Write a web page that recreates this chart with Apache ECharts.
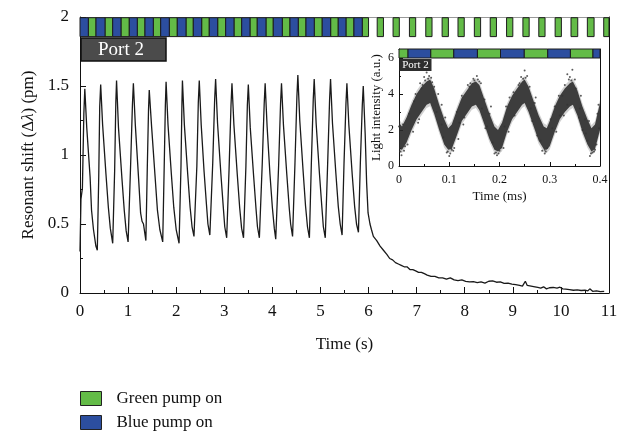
<!DOCTYPE html>
<html><head><meta charset="utf-8">
<script src="https://cdn.jsdelivr.net/npm/echarts@6/dist/echarts.min.js"></script>
<style>html,body{margin:0;padding:0;background:#fff}#c{width:624px;height:434px}</style>
</head><body><div id="c"></div>
<script>
// ---------- Main panel data (Time in s, resonant shift in pm) ----------
const resonantShift = [
 [0,0.30],[0.02,0.68],[0.05,0.76],[0.08,1.30],[0.10,1.48],[0.14,1.20],[0.21,0.84],[0.24,0.60],[0.28,0.46],[0.33,0.34],[0.36,0.31],
 [0.39,0.85],[0.41,1.35],[0.43,1.51],[0.47,1.22],[0.54,0.86],[0.59,0.62],[0.63,0.47],[0.68,0.36],
 [0.72,0.88],[0.745,1.38],[0.76,1.54],[0.80,1.20],[0.87,0.84],[0.92,0.60],[0.96,0.45],[1.00,0.37],
 [1.05,0.90],[1.09,1.36],[1.11,1.52],[1.15,1.22],[1.22,0.82],[1.26,0.58],[1.29,0.52],[1.32,0.50],[1.37,0.38],
 [1.40,0.92],[1.425,1.33],[1.44,1.47],[1.49,1.20],[1.56,0.85],[1.61,0.60],[1.66,0.46],[1.72,0.37],
 [1.75,0.90],[1.775,1.36],[1.79,1.53],[1.83,1.22],[1.90,0.86],[1.95,0.62],[2.00,0.46],[2.06,0.36],
 [2.10,0.92],[2.12,1.38],[2.13,1.54],[2.17,1.22],[2.24,0.86],[2.29,0.62],[2.33,0.48],[2.37,0.41],
 [2.43,0.92],[2.46,1.38],[2.48,1.54],[2.52,1.22],[2.58,0.88],[2.63,0.64],[2.66,0.50],[2.70,0.42],
 [2.76,0.94],[2.80,1.40],[2.82,1.55],[2.86,1.23],[2.93,0.86],[2.98,0.62],[3.01,0.48],[3.05,0.40],
 [3.10,0.90],[3.14,1.36],[3.16,1.52],[3.20,1.22],[3.27,0.86],[3.32,0.62],[3.36,0.47],[3.40,0.40],
 [3.45,0.92],[3.48,1.36],[3.50,1.51],[3.54,1.20],[3.61,0.85],[3.66,0.61],[3.69,0.48],[3.73,0.40],
 [3.79,0.94],[3.83,1.37],[3.85,1.52],[3.89,1.21],[3.95,0.86],[4.00,0.62],[4.04,0.47],[4.07,0.39],
 [4.13,0.92],[4.17,1.37],[4.19,1.52],[4.23,1.22],[4.30,0.86],[4.35,0.62],[4.38,0.50],[4.42,0.41],
 [4.47,0.94],[4.51,1.42],[4.53,1.58],[4.57,1.25],[4.64,0.88],[4.69,0.63],[4.73,0.48],[4.77,0.40],
 [4.81,0.93],[4.85,1.40],[4.87,1.55],[4.91,1.23],[4.98,0.86],[5.03,0.62],[5.06,0.48],[5.10,0.40],
 [5.15,0.94],[5.19,1.40],[5.21,1.55],[5.25,1.23],[5.32,0.87],[5.37,0.63],[5.41,0.50],[5.45,0.42],
 [5.49,0.94],[5.53,1.37],[5.55,1.52],[5.59,1.22],[5.66,0.86],[5.71,0.63],[5.75,0.50],[5.79,0.44],
 [5.83,0.95],[5.87,1.36],[5.89,1.50],[5.93,1.15],[5.96,0.80],[5.99,0.58],[6.03,0.50],[6.06,0.46],
 [6.10,0.41],[6.17,0.38],[6.24,0.34],[6.31,0.31],[6.38,0.28],[6.44,0.25],[6.50,0.24],[6.56,0.22],
 [6.62,0.21],[6.68,0.20],[6.74,0.19],[6.80,0.19],[6.86,0.17],[6.92,0.17],[6.98,0.16],[7.04,0.15],
 [7.10,0.15],[7.16,0.14],[7.22,0.13],[7.30,0.12],[7.38,0.12],[7.46,0.11],[7.54,0.11],[7.62,0.10],
 [7.70,0.11],[7.78,0.095],[7.86,0.09],[7.94,0.095],[8.02,0.085],[8.10,0.08],[8.18,0.082],[8.26,0.075],
 [8.34,0.08],[8.42,0.072],[8.50,0.085],[8.58,0.088],[8.66,0.078],[8.74,0.08],[8.82,0.07],[8.90,0.072],
 [8.98,0.065],[9.06,0.06],[9.14,0.055],[9.20,0.05],[9.26,0.085],[9.30,0.055],[9.38,0.05],[9.46,0.045],
 [9.52,0.04],[9.58,0.035],[9.64,0.045],[9.70,0.03],[9.76,0.038],[9.84,0.04],[9.92,0.035],[9.98,0.042],
 [10.04,0.03],[10.10,0.028],[10.18,0.025],[10.26,0.02],[10.34,0.022],[10.42,0.018],[10.50,0.02],
 [10.56,0.015],[10.60,0.03],[10.66,0.012],[10.74,0.015],[10.82,0.01],[10.90,0.012]
];
// pump-on intervals [start, end] in s
const bluePumpMain = [
 [0,0.173],[0.333,0.520],[0.680,0.852],[1.025,1.191],[1.351,1.524],[1.678,1.857],[2.023,2.204],
 [2.356,2.530],[2.688,2.863],[3.029,3.202],[3.362,3.534],[3.686,3.867],[4.019,4.206],[4.366,4.538],
 [4.699,4.871],[5.037,5.212],[5.370,5.530],[5.696,5.869]
];
const greenPumpMain = [
 [0.173,0.333],[0.520,0.680],[0.852,1.025],[1.191,1.351],[1.524,1.678],[1.857,2.023],[2.204,2.356],
 [2.530,2.688],[2.863,3.029],[3.202,3.362],[3.534,3.686],[3.867,4.019],[4.206,4.366],[4.538,4.699],
 [4.871,5.037],[5.212,5.370],[5.530,5.696],[5.869,6.00],
 [6.18,6.31],[6.51,6.64],[6.85,6.98],[7.19,7.32],[7.53,7.66],[7.86,7.99],[8.20,8.33],[8.53,8.66],
 [8.87,9.00],[9.21,9.34],[9.54,9.67],[9.88,10.01],[10.21,10.35],[10.55,10.69],[10.89,11.0]
];

// ---------- Inset data (Time in ms, light intensity a.u.) ----------
const insetTime = [0,0.006,0.015,0.025,0.035,0.045,0.055,0.062,0.07,0.08,0.09,0.098,0.105,0.115,0.125,0.135,0.145,0.153,0.16,0.17,0.18,0.19,0.197,0.205,0.215,0.225,0.235,0.245,0.25,0.258,0.268,0.278,0.288,0.294,0.3,0.31,0.32,0.33,0.34,0.346,0.355,0.365,0.375,0.383,0.39,0.4];
const insetLow  = [0.95,0.9,1.3,2.0,2.6,3.0,3.4,3.5,2.9,2.0,1.2,0.9,0.95,1.7,2.5,2.9,3.3,3.4,3.1,2.3,1.5,0.9,0.8,1.0,1.9,2.6,3.0,3.4,3.5,3.0,2.2,1.4,0.95,0.9,1.1,1.9,2.6,3.0,3.3,3.4,2.8,1.9,1.2,0.8,0.95,2.0];
const insetHigh = [2.4,2.2,2.7,3.4,4.0,4.4,4.7,4.8,4.3,3.4,2.6,2.1,2.3,3.1,3.8,4.2,4.6,4.7,4.5,3.7,2.9,2.2,2.0,2.4,3.3,3.9,4.3,4.7,4.8,4.4,3.6,2.8,2.2,2.1,2.5,3.3,3.9,4.3,4.6,4.7,4.2,3.3,2.6,2.1,2.3,3.5];
const insetOutliers = [
 [0.055,5.2],[0.06,5.0],[0.064,4.9],[0.05,4.95],[0.155,5.0],[0.148,4.85],[0.16,4.7],[0.243,4.95],[0.25,5.3],[0.255,5.0],
 [0.335,5.1],[0.34,4.95],[0.345,5.35],[0.35,4.8],
 [0.005,0.6],[0.01,0.85],[0.095,0.75],[0.1,0.55],[0.105,0.9],[0.19,0.7],[0.195,0.6],[0.2,0.85],[0.285,0.85],[0.29,0.7],
 [0.295,1.0],[0.38,0.55],[0.385,0.75],[0.39,0.9],
 [0.02,2.9],[0.03,3.6],[0.04,2.6],[0.045,4.3],[0.07,4.4],[0.075,3.0],[0.085,2.3],[0.085,3.4],[0.11,1.0],[0.115,3.0],
 [0.12,2.4],[0.125,3.9],[0.13,2.7],[0.14,4.4],[0.165,3.2],[0.17,3.7],[0.175,2.2],[0.18,2.9],[0.21,2.2],[0.22,3.8],
 [0.23,2.8],[0.24,4.6],[0.26,4.4],[0.265,2.5],[0.27,3.5],[0.275,1.7],[0.305,2.1],[0.31,3.3],[0.32,2.8],[0.325,3.9],
 [0.335,3.4],[0.36,3.2],[0.365,2.0],[0.37,2.6],[0.375,1.4],[0.395,2.9],[0.398,2.1],[0.008,2.3],[0.012,1.1],[0.0,2.2],
 [0.052,4.75],[0.058,4.85],[0.066,4.65],[0.047,4.5],[0.15,4.75],[0.157,4.8],[0.142,4.6],[0.247,4.85],[0.252,4.9],
 [0.238,4.5],[0.338,4.8],[0.343,4.75],[0.33,4.5],[0.003,0.8],[0.097,0.8],[0.102,0.7],[0.108,0.85],[0.193,0.75],
 [0.198,0.7],[0.29,0.9],[0.292,0.8],[0.382,0.7],[0.388,0.8],[0.017,1.2],[0.028,1.9],[0.038,2.4],[0.033,4.0],
 [0.042,4.6],[0.078,4.0],[0.088,1.6],[0.092,2.7],[0.118,1.5],[0.128,2.3],[0.137,4.5],[0.163,4.6],[0.172,2.1],
 [0.183,3.3],[0.186,1.3],[0.208,1.0],[0.213,3.3],[0.218,1.9],[0.228,4.1],[0.262,3.2],[0.272,3.8],[0.282,1.4],
 [0.302,2.6],[0.313,1.9],[0.318,3.9],[0.328,2.8],[0.352,4.3],[0.358,2.7],[0.362,3.9],[0.372,1.8],[0.378,2.5],
 [0.393,1.2],[0.397,3.4]
];
const greenPumpInset = [[0,0.018],[0.063,0.109],[0.156,0.202],[0.249,0.296],[0.341,0.386]];
const bluePumpInset  = [[0.018,0.063],[0.109,0.156],[0.202,0.249],[0.296,0.341],[0.386,0.4]];

const GREEN = '#63bb47', BLUE = '#2c4e9f', INK = '#111';
const FONT = '"Liberation Serif", "DejaVu Serif", serif';

function stripes(yTop, yBot) {
  return function (params, api) {
    const a = api.coord([api.value(0), yTop]);
    const b = api.coord([api.value(1), yBot]);
    return { type: 'rect', shape: { x: a[0], y: a[1], width: b[0] - a[0], height: b[1] - a[1] },
      style: { fill: api.visual('color'), stroke: '#1c1c1c', lineWidth: 1 } };
  };
}
function bandRender(params, api) {
  const outer = [], inner = [];
  const fuzz = 0.18;
  for (let i = 0; i < insetTime.length; i++) outer.push(api.coord([insetTime[i], insetHigh[i] + fuzz]));
  for (let i = insetTime.length - 1; i >= 0; i--) outer.push(api.coord([insetTime[i], insetLow[i] - fuzz]));
  for (let i = 0; i < insetTime.length; i++) inner.push(api.coord([insetTime[i], insetHigh[i]]));
  for (let i = insetTime.length - 1; i >= 0; i--) inner.push(api.coord([insetTime[i], insetLow[i]]));
  return { type: 'group', children: [
    { type: 'polygon', shape: { points: outer }, style: { fill: 'rgba(70,70,70,0.25)' } },
    { type: 'polygon', shape: { points: inner }, style: { fill: 'rgba(40,40,40,0.88)' } }
  ]};
}

const axisCommon = {
  type: 'value', splitLine: { show: false },
  axisLine: { show: true, lineStyle: { color: INK, width: 1 } },
  axisTick: { show: true, inside: true, length: 6, lineStyle: { color: INK } },
  minorTick: { show: true, splitNumber: 2, length: 3, lineStyle: { color: INK } }
};
const frame = (extra) => Object.assign({ type: 'value', splitLine: { show: false }, axisTick: { show: false },
  axisLabel: { show: false }, axisLine: { show: true, onZero: false, lineStyle: { color: INK, width: 1 } } }, extra);
const legendBase = {
  orient: 'vertical', left: 80, padding: 0, itemWidth: 21, itemHeight: 14,
  selectedMode: false, icon: 'rect',
  itemStyle: { borderColor: '#222', borderWidth: 1 },
  textStyle: { fontFamily: FONT, fontSize: 17, color: INK, padding: [0, 0, 0, 10] }
};

const chart = echarts.init(document.getElementById('c'), null, { renderer: 'canvas' });
chart.setOption({
  animation: false,
  backgroundColor: '#fff',
  grid: [
    { left: 80, right: 15, top: 17, bottom: 141 },
    { left: 399, top: 49, width: 201, height: 117, show: true, backgroundColor: '#fff', borderWidth: 0 }
  ],
  xAxis: [
    Object.assign({}, axisCommon, { gridIndex: 0, min: 0, max: 11, interval: 1,
      axisLine: { onZero: false, lineStyle: { color: INK } },
      axisLabel: { fontFamily: FONT, fontSize: 17, color: INK, margin: 10 },
      name: 'Time (s)', nameLocation: 'middle', nameGap: 43,
      nameTextStyle: { fontFamily: FONT, fontSize: 17, color: INK } }),
    frame({ gridIndex: 0, min: 0, max: 11, position: 'top', axisLine: { show: true, onZero: false, lineStyle: { color: '#999' } } }),
    Object.assign({}, axisCommon, { gridIndex: 1, min: 0, max: 0.4, interval: 0.1,
      axisTick: { inside: true, length: 4, lineStyle: { color: INK } },
      minorTick: { show: true, splitNumber: 2, length: 2, lineStyle: { color: INK } },
      axisLine: { onZero: false, lineStyle: { color: INK } },
      axisLabel: { fontFamily: FONT, fontSize: 12, color: INK, margin: 8 },
      name: 'Time (ms)', nameLocation: 'middle', nameGap: 24,
      nameTextStyle: { fontFamily: FONT, fontSize: 13, color: INK } }),
    frame({ gridIndex: 1, min: 0, max: 0.4, position: 'top' })
  ],
  yAxis: [
    Object.assign({}, axisCommon, { gridIndex: 0, min: 0, max: 2, interval: 0.5,
      axisLine: { onZero: false, lineStyle: { color: INK } },
      axisLabel: { fontFamily: FONT, fontSize: 17, color: INK, margin: 11 },
      name: 'Resonant shift (Δ{i|λ}) (pm)', nameLocation: 'middle', nameGap: 40, nameRotate: 90,
      nameTextStyle: { fontFamily: FONT, fontSize: 17, color: INK,
        rich: { i: { fontFamily: FONT, fontSize: 17, fontStyle: 'italic', color: INK } } } }),
    frame({ gridIndex: 0, min: 0, max: 2, position: 'right' }),
    Object.assign({}, axisCommon, { gridIndex: 1, min: 0, max: 6.5, interval: 2,
      axisTick: { inside: true, length: 4, lineStyle: { color: INK } },
      minorTick: { show: true, splitNumber: 2, length: 2, lineStyle: { color: INK } },
      axisLine: { onZero: false, lineStyle: { color: INK } },
      axisLabel: { fontFamily: FONT, fontSize: 12, color: INK, margin: 5,
        formatter: v => (v > 6.1 ? '' : String(v)) },
      name: 'Light intensity (a.u.)', nameLocation: 'middle', nameGap: 16, nameRotate: 90,
      nameTextStyle: { fontFamily: FONT, fontSize: 13, color: INK } }),
    frame({ gridIndex: 1, min: 0, max: 6.5, position: 'right' })
  ],
  legend: [
    Object.assign({}, legendBase, { top: 390, data: ['Green pump on'] }),
    Object.assign({}, legendBase, { top: 414, data: ['Blue pump on'] })
  ],
  series: [
    { type: 'line', xAxisIndex: 0, yAxisIndex: 0, data: resonantShift, showSymbol: false,
      lineStyle: { color: '#1a1a1a', width: 1.3 }, z: 3 },
    { type: 'custom', name: 'Green pump on', xAxisIndex: 0, yAxisIndex: 0, data: greenPumpMain,
      encode: { x: [0, 1] }, itemStyle: { color: GREEN }, renderItem: stripes(1.995, 1.858), z: 4 },
    { type: 'custom', name: 'Blue pump on', xAxisIndex: 0, yAxisIndex: 0, data: bluePumpMain,
      encode: { x: [0, 1] }, itemStyle: { color: BLUE }, renderItem: stripes(1.995, 1.858), z: 4 },
    { type: 'custom', xAxisIndex: 2, yAxisIndex: 2, data: [[0.2, 3]], clip: true,
      renderItem: bandRender, silent: true, z: 3 },
    { type: 'scatter', xAxisIndex: 2, yAxisIndex: 2, data: insetOutliers, symbolSize: 2,
      itemStyle: { color: '#333' }, z: 3 },
    { type: 'custom', name: 'Green pump on', xAxisIndex: 2, yAxisIndex: 2, data: greenPumpInset,
      encode: { x: [0, 1] }, itemStyle: { color: GREEN }, renderItem: stripes(6.5, 6.0), z: 4 },
    { type: 'custom', name: 'Blue pump on', xAxisIndex: 2, yAxisIndex: 2, data: bluePumpInset,
      encode: { x: [0, 1] }, itemStyle: { color: BLUE }, renderItem: stripes(6.5, 6.0), z: 4 }
  ],
  graphic: [
    { type: 'rect', x: 81, y: 38, shape: { width: 85, height: 23 },
      style: { fill: '#4b4b4b', stroke: '#111', lineWidth: 1.5 }, z: 20 },
    { type: 'text', x: 121, y: 50, z: 21,
      style: { text: 'Port 2', fill: '#fff', font: '19px ' + FONT, align: 'center', verticalAlign: 'middle' } },
    { type: 'rect', x: 399.5, y: 59, shape: { width: 32, height: 12 },
      style: { fill: '#2e2e2e' }, z: 20 },
    { type: 'text', x: 415.5, y: 65.5, z: 21,
      style: { text: 'Port 2', fill: '#fff', font: '11px ' + FONT, align: 'center', verticalAlign: 'middle' } }
  ]
});
</script>
</body></html>
